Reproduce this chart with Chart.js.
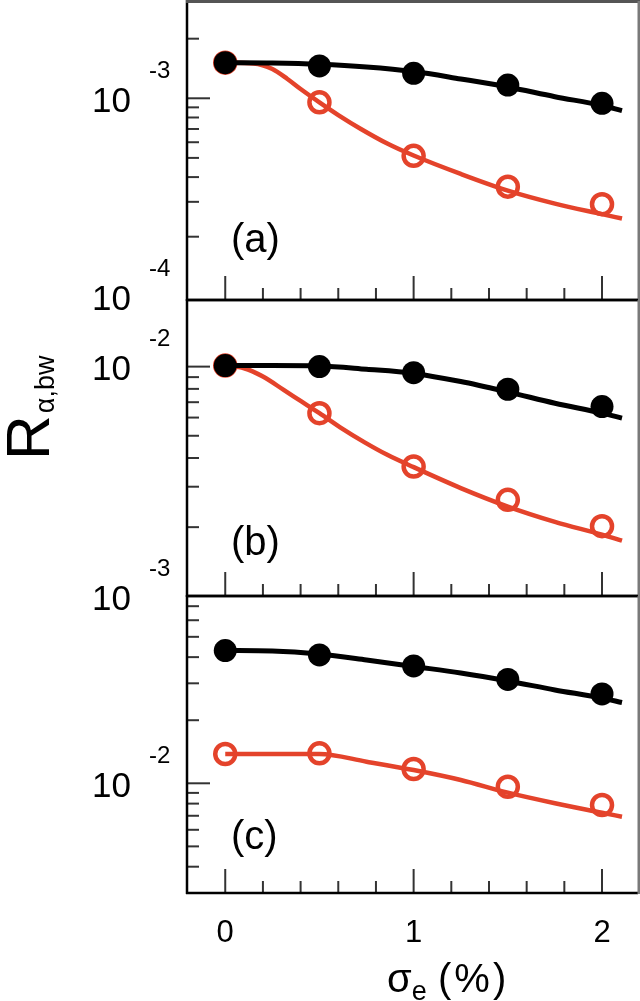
<!DOCTYPE html>
<html><head><meta charset="utf-8">
<script src="https://cdn.jsdelivr.net/npm/chart.js@4"></script>
<style>
html,body{margin:0;padding:0;background:#fff;width:640px;height:1001px;overflow:hidden}
canvas{position:absolute;left:0;top:0}
</style></head><body>
<canvas id="ca" width="640" height="1001"></canvas>
<canvas id="cb" width="640" height="1001"></canvas>
<canvas id="cc" width="640" height="1001"></canvas>
<script>
// ---- data ----
const sigma = [0, 0.5, 1, 1.5, 2];
const fitX = [0, 0.25, 0.5, 0.75, 1, 1.25, 1.5, 1.75, 2, 2.106];

// panel (a)
const aBlack = [1.513e-3, 1.456e-3, 1.337e-3, 1.167e-3, 9.43e-4];
const aRed   = [1.513e-3, 9.54e-4, 5.12e-4, 3.58e-4, 2.92e-4];
const aBlackFit = [1.513e-3, 1.507e-3, 1.485e-3, 1.439e-3, 1.365e-3, 1.252e-3, 1.141e-3, 1.019e-3, 9.20e-4, 8.66e-4];
const aRedFitX = [0, 0.15, 0.25, 0.33, 0.4, 0.5, 0.6, 0.72, 0.86, 1.0, 1.25, 1.5, 1.75, 2.0, 2.106];
const aRedFit  = [1.513e-3, 1.499e-3, 1.406e-3, 1.252e-3, 1.114e-3, 9.54e-4, 8.23e-4, 7.00e-4, 5.91e-4, 5.14e-4, 4.15e-4, 3.42e-4, 2.94e-4, 2.60e-4, 2.47e-4];

// panel (b)
const bBlack = [1.01e-2, 1.00e-2, 9.41e-3, 7.97e-3, 6.70e-3];
const bRed   = [1.01e-2, 6.27e-3, 3.67e-3, 2.63e-3, 2.02e-3];
const bBlackFit = [1.01e-2, 1.01e-2, 1.007e-2, 9.74e-3, 9.34e-3, 8.61e-3, 7.76e-3, 6.93e-3, 6.27e-3, 5.97e-3];
const bRedFitX = [0, 0.1, 0.2, 0.31, 0.4, 0.5, 0.61, 0.74, 0.86, 1.0, 1.25, 1.5, 1.75, 2.0, 2.106];
const bRedFit  = [1.01e-2, 9.84e-3, 9.05e-3, 7.92e-3, 7.09e-3, 6.27e-3, 5.44e-3, 4.68e-3, 4.13e-3, 3.65e-3, 2.96e-3, 2.46e-3, 2.11e-3, 1.855e-3, 1.746e-3];

// panel (c)
const cBlack = [4.30e-2, 4.10e-2, 3.63e-2, 3.13e-2, 2.67e-2];
const cRed   = [1.380e-2, 1.39e-2, 1.17e-2, 9.63e-3, 7.88e-3];
const cBlackFit = [4.30e-2, 4.28e-2, 4.14e-2, 3.88e-2, 3.61e-2, 3.36e-2, 3.08e-2, 2.79e-2, 2.55e-2, 2.43e-2];
const cRedFit   = [1.380e-2, 1.38e-2, 1.38e-2, 1.268e-2, 1.157e-2, 1.037e-2, 9.02e-3, 8.03e-3, 7.24e-3, 6.93e-3];

// ticks / labels
const xTickLabels = ['0', '1', '2'];
const xMajorTicks = [0, 1, 2];
const xMinorStep = 0.2;
const aExponents = ['-3', '-4'];
const bExponents = ['-2', '-3'];
const cExponents = ['-2'];
const panelLetters = ['(a)', '(b)', '(c)'];
const yTitle = 'R';
const yTitleSub = 'α,bw';
const xTitle = 'σ';
const xTitleSub = 'e';
const xTitleUnit = '(%)';

const RED = '#e4432b';
const FONT = "'Liberation Sans', Arial, Helvetica, sans-serif";

function zip(xs, ys) { return xs.map((x, i) => ({x: x, y: ys[i]})); }

function line(ctx, x1, y1, x2, y2) { ctx.beginPath(); ctx.moveTo(x1, y1); ctx.lineTo(x2, y2); ctx.stroke(); }

function makeDecor(p) {
  return {
    id: 'decor' + p.id,
    afterDraw(chart) {
      const ctx = chart.ctx, a = chart.chartArea, xs = chart.scales.x, ys = chart.scales.y;
      ctx.save();
      // y ticks (inward)
      ctx.strokeStyle = '#333'; ctx.lineWidth = 2;
      const e0 = Math.floor(Math.log10(ys.min)), e1 = Math.ceil(Math.log10(ys.max));
      for (let e = e0; e <= e1; e++) {
        for (let m = 1; m <= 9; m++) {
          const v = m * Math.pow(10, e);
          if (v < ys.min || v > ys.max) continue;
          const py = ys.getPixelForValue(v);
          if (py < a.top + 4 || py > a.bottom - 4) continue;
          line(ctx, a.left, py, a.left + (m === 1 ? 23 : 12), py);
        }
      }
      // x ticks (inward from bottom)
      for (let k = -2; k <= 12; k++) {
        const v = Math.round(k * xMinorStep * 10) / 10;
        const px = xs.getPixelForValue(v);
        if (px < a.left + 4 || px > a.right - 4) continue;
        const major = xMajorTicks.includes(v);
        line(ctx, px, a.bottom, px, a.bottom - (major ? 24 : 12));
      }
      // frame
      ctx.strokeStyle = '#000'; ctx.lineWidth = 2.5;
      line(ctx, a.left, a.top - 1, a.left, a.bottom + 1);
      line(ctx, a.left - 1, a.bottom, a.right, a.bottom);
      if (p.topGray) {
        ctx.strokeStyle = '#555'; ctx.lineWidth = 3;
        line(ctx, a.left - 1, a.top + 0.5, 640, a.top + 0.5);
      } else {
        line(ctx, a.left - 1, a.top, a.right, a.top);
      }
      ctx.strokeStyle = '#7a7a7a'; ctx.lineWidth = 3;
      line(ctx, a.right + 1, a.top, a.right + 1, a.bottom + 1);

      // y tick labels 10^n
      ctx.fillStyle = '#000';
      p.exps.forEach(ex => {
        const py = ys.getPixelForValue(Math.pow(10, Number(ex)));
        ctx.font = '35px ' + FONT; ctx.textAlign = 'right'; ctx.textBaseline = 'alphabetic';
        ctx.fillText('10', 131, py + 13.5);
        ctx.font = '24px ' + FONT; ctx.textAlign = 'left';
        ctx.fillText(ex, 149, py - 20.5);
      });
      // panel letter
      ctx.font = '40px ' + FONT; ctx.textAlign = 'left'; ctx.textBaseline = 'alphabetic';
      ctx.fillText(p.letter, a.left + 44, a.bottom - p.letterOff);

      if (p.last) {
        // x tick labels
        ctx.font = '31px ' + FONT; ctx.textAlign = 'center';
        xMajorTicks.forEach((v, i) => ctx.fillText(xTickLabels[i], xs.getPixelForValue(v), a.bottom + 49));
        // x title
        ctx.textAlign = 'left';
        ctx.font = '40px ' + FONT;
        ctx.fillText(xTitle, 387, 992);
        const sw = ctx.measureText(xTitle).width;
        ctx.font = '27px ' + FONT;
        ctx.fillText(xTitleSub, 387 + sw, 1000);
        ctx.font = '40px ' + FONT;
        try { ctx.letterSpacing = '3px'; } catch (e) {}
        ctx.fillText(xTitleUnit, 438, 992);
        try { ctx.letterSpacing = '0px'; } catch (e) {}
        // y title (rotated)
        ctx.save();
        ctx.translate(49, 460);
        ctx.rotate(-Math.PI / 2);
        ctx.font = '62px ' + FONT;
        ctx.fillText(yTitle, 0, 0);
        const rw = ctx.measureText(yTitle).width;
        ctx.font = '27px ' + FONT;
        ctx.fillText(yTitleSub, rw + 2, 5);
        ctx.restore();
      }
      ctx.restore();
    }
  };
}

function makePanel(p) {
  return new Chart(document.getElementById(p.id), {
    type: 'line',
    data: {
      datasets: [
        { data: zip(sigma, p.black), showLine: false, pointRadius: 11.5, pointBackgroundColor: '#000', pointBorderWidth: 0, borderColor: '#000', order: 1 },
        { data: zip(fitX, p.blackFit), borderColor: '#000', borderWidth: 5, pointRadius: 0, cubicInterpolationMode: 'monotone', order: 2 },
        { data: zip(sigma, p.red), showLine: false, pointRadius: 10, pointBorderWidth: 4.5, pointBorderColor: RED, pointBackgroundColor: 'rgba(0,0,0,0)', borderColor: RED, order: 3 },
        { data: zip(p.redFitX, p.redFit), borderColor: RED, borderWidth: 4.5, pointRadius: 0, cubicInterpolationMode: 'monotone', order: 4 }
      ]
    },
    options: {
      responsive: false, animation: false, devicePixelRatio: 1,
      layout: { autoPadding: false, padding: { left: 187, right: 2, top: p.top, bottom: 1001 - p.bottom } },
      plugins: { legend: { display: false }, tooltip: { enabled: false } },
      scales: {
        x: { type: 'linear', min: -0.203, max: 2.191, display: false },
        y: { type: 'logarithmic', min: p.min, max: p.max, display: false }
      }
    },
    plugins: [makeDecor(p)]
  });
}

makePanel({ id: 'ca', top: 1, bottom: 300, min: 9.58e-5, max: 3.10e-3, black: aBlack, red: aRed, blackFit: aBlackFit, redFitX: aRedFitX, redFit: aRedFit, exps: aExponents, letter: panelLetters[0], letterOff: 48, topGray: true });
makePanel({ id: 'cb', top: 300, bottom: 596, min: 1.003e-3, max: 1.95e-2, black: bBlack, red: bRed, blackFit: bBlackFit, redFitX: bRedFitX, redFit: bRedFit, exps: bExponents, letter: panelLetters[1], letterOff: 41 });
makePanel({ id: 'cc', top: 596, bottom: 893, min: 2.996e-3, max: 7.83e-2, black: cBlack, red: cRed, blackFit: cBlackFit, redFitX: fitX, redFit: cRedFit, exps: cExponents, letter: panelLetters[2], letterOff: 44, last: true });
</script>
</body></html>
